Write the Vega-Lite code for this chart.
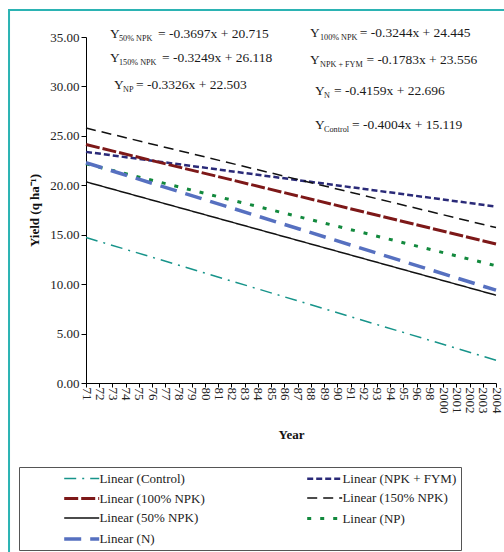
{
  "$schema": "https://vega.github.io/schema/vega-lite/v6.json",
  "width": 410,
  "height": 346,
  "autosize": {"type": "none"},
  "padding": {"left": 86, "top": 37, "right": 8, "bottom": 169},
  "background": "#ffffff",
  "datasets": {
    "lines": [
      {"series": "Linear (Control)", "year": "71", "idx": 1, "yield": 14.72},
      {"series": "Linear (Control)", "year": "2004", "idx": 32, "yield": 2.31},
      {"series": "Linear (NPK + FYM)", "year": "71", "idx": 1, "yield": 23.38},
      {"series": "Linear (NPK + FYM)", "year": "2004", "idx": 32, "yield": 17.85},
      {"series": "Linear (100% NPK)", "year": "71", "idx": 1, "yield": 24.12},
      {"series": "Linear (100% NPK)", "year": "2004", "idx": 32, "yield": 14.06},
      {"series": "Linear (150% NPK)", "year": "71", "idx": 1, "yield": 25.79},
      {"series": "Linear (150% NPK)", "year": "2004", "idx": 32, "yield": 15.72},
      {"series": "Linear (50% NPK)", "year": "71", "idx": 1, "yield": 20.35},
      {"series": "Linear (50% NPK)", "year": "2004", "idx": 32, "yield": 8.88},
      {"series": "Linear (NP)", "year": "71", "idx": 1, "yield": 22.17},
      {"series": "Linear (NP)", "year": "2004", "idx": 32, "yield": 11.86},
      {"series": "Linear (N)", "year": "71", "idx": 1, "yield": 22.28},
      {"series": "Linear (N)", "year": "2004", "idx": 32, "yield": 9.39}
    ],
    "eqs": [
      {"part": "main", "text": "Y", "idx": 2.815, "yield": 34.9},
      {"part": "sub", "text": "50% NPK", "idx": 3.495, "yield": 34.59},
      {"part": "main", "text": "= -0.3697x + 20.715", "idx": 6.444, "yield": 34.9},
      {"part": "main", "text": "Y", "idx": 2.815, "yield": 32.47},
      {"part": "sub", "text": "150% NPK", "idx": 3.495, "yield": 32.17},
      {"part": "main", "text": "= -0.3249x + 26.118", "idx": 6.746, "yield": 32.47},
      {"part": "main", "text": "Y", "idx": 3.117, "yield": 29.74},
      {"part": "sub", "text": "NP", "idx": 3.8, "yield": 29.43},
      {"part": "main", "text": "= -0.3326x + 22.503", "idx": 4.78, "yield": 29.74},
      {"part": "main", "text": "Y", "idx": 17.94, "yield": 35.0},
      {"part": "sub", "text": "100% NPK", "idx": 18.69, "yield": 34.69},
      {"part": "main", "text": "= -0.3244x + 24.445", "idx": 21.7, "yield": 35.0},
      {"part": "main", "text": "Y", "idx": 17.94, "yield": 32.27},
      {"part": "sub", "text": "NPK + FYM", "idx": 18.69, "yield": 31.96},
      {"part": "main", "text": "= -0.1783x + 23.556", "idx": 22.2, "yield": 32.27},
      {"part": "main", "text": "Y", "idx": 18.31, "yield": 29.13},
      {"part": "sub", "text": "N", "idx": 19.0, "yield": 28.83},
      {"part": "main", "text": "= -0.4159x + 22.696", "idx": 19.75, "yield": 29.13},
      {"part": "main", "text": "Y", "idx": 18.31, "yield": 25.69},
      {"part": "sub", "text": "Control", "idx": 19.0, "yield": 25.39},
      {"part": "main", "text": "= -0.4004x + 15.119", "idx": 21.11, "yield": 25.69}
    ]
  },
  "layer": [
    {
      "data": {"name": "lines"},
      "mark": {"type": "line", "clip": false},
      "encoding": {
        "x": {
          "field": "idx", "type": "quantitative",
          "scale": {"domain": [1, 32], "nice": false, "zero": false},
          "axis": {
            "title": "Year",
            "values": [1,2,3,4,5,6,7,8,9,10,11,12,13,14,15,16,17,18,19,20,21,22,23,24,25,26,27,28,29,30,31,32],
            "tickCount": 64,
            "labelExpr": "['71','72','73','74','75','76','77','78','79','80','81','82','83','84','85','86','87','88','89','90','91','92','93','94','95','96','98','2000','2001','2002','2003','2004'][datum.value - 1]",
            "labelAngle": 90,
            "labelAlign": "left",
            "labelBaseline": "middle",
            "labelOverlap": false,
            "labelFontSize": 13,
            "labelPadding": 0,
            "tickSize": 4,
            "titleFontSize": 13,
            "titleFontWeight": "bold",
            "titlePadding": 15
          }
        },
        "y": {
          "field": "yield", "type": "quantitative",
          "scale": {"domain": [0, 35], "nice": false},
          "axis": {
            "title": "Yield (q ha⁻¹)",
            "values": [0, 5, 10, 15, 20, 25, 30, 35],
            "tickCount": 20,
            "format": ".2f",
            "labelFontSize": 13,
            "labelPadding": 2,
            "tickSize": 5,
            "titleFontSize": 13,
            "titleFontWeight": "bold",
            "titlePadding": 8
          }
        },
        "color": {
          "field": "series", "type": "nominal",
          "scale": {
            "domain": ["Linear (Control)", "Linear (NPK + FYM)", "Linear (100% NPK)", "Linear (150% NPK)", "Linear (50% NPK)", "Linear (NP)", "Linear (N)"],
            "range": ["#17948a", "#2a2a78", "#7d1818", "#111111", "#111111", "#12893d", "#5670c0"]
          },
          "legend": {"title": null, "encode": {"legend": {"update": {"width": {"value": 520}}}}}
        },
        "strokeDash": {
          "field": "series", "type": "nominal",
          "scale": {
            "domain": ["Linear (Control)", "Linear (NPK + FYM)", "Linear (100% NPK)", "Linear (150% NPK)", "Linear (50% NPK)", "Linear (NP)", "Linear (N)"],
            "range": [[12, 6, 2, 6], [6, 3], [14, 3], [10, 6], [1, 0], [4, 9], [17, 9]]
          },
          "legend": {"title": null}
        },
        "strokeWidth": {
          "field": "series", "type": "nominal",
          "scale": {
            "type": "ordinal",
            "domain": ["Linear (Control)", "Linear (NPK + FYM)", "Linear (100% NPK)", "Linear (150% NPK)", "Linear (50% NPK)", "Linear (NP)", "Linear (N)"],
            "range": [1.5, 2.5, 3, 1.5, 1.5, 3, 3.5]
          },
          "legend": {"title": null}
        },
        "detail": {"field": "series"}
      }
    },
    {
      "data": {"values": [{"frame": "border"}]},
      "mark": {"type": "rect", "fill": null, "stroke": "#2bb3b3", "strokeWidth": 2, "clip": false},
      "encoding": {
        "x": {"datum": -4.82, "type": "quantitative"},
        "x2": {"datum": 36},
        "y": {"datum": 37.73, "type": "quantitative"},
        "y2": {"datum": -25}
      }
    },
    {
      "data": {"name": "eqs"},
      "transform": [{"filter": "datum.part === 'main'"}],
      "mark": {"type": "text", "align": "left", "baseline": "alphabetic", "fontSize": 13.5, "font": "Liberation Serif", "color": "#1a1a1a", "clip": false},
      "encoding": {
        "x": {"field": "idx", "type": "quantitative"},
        "y": {"field": "yield", "type": "quantitative"},
        "text": {"field": "text"}
      }
    },
    {
      "data": {"name": "eqs"},
      "transform": [{"filter": "datum.part === 'sub'"}],
      "mark": {"type": "text", "align": "left", "baseline": "alphabetic", "fontSize": 8.2, "font": "Liberation Serif", "color": "#1a1a1a", "clip": false},
      "encoding": {
        "x": {"field": "idx", "type": "quantitative"},
        "y": {"field": "yield", "type": "quantitative"},
        "text": {"field": "text"}
      }
    }
  ],
  "config": {
    "view": {"stroke": null},
    "font": "Liberation Serif",
    "axis": {
      "grid": false,
      "domainColor": "#000000",
      "tickColor": "#000000",
      "labelColor": "#222222",
      "titleColor": "#111111",
      "labelFont": "Liberation Serif",
      "titleFont": "Liberation Serif"
    },
    "legend": {
      "orient": "none",
      "legendX": -67,
      "legendY": 430,
      "direction": "horizontal",
      "columns": 2,
      "symbolType": "M-3,0H3",
      "symbolSize": 136,
      "symbolOffset": 50.7,
      "labelOffset": 9.7,
      "labelFont": "Liberation Serif",
      "labelFontSize": 13,
      "labelColor": "#222222",
      "labelLimit": 300,
      "padding": 4,
      "rowPadding": 5,
      "columnPadding": 61,
      "strokeColor": "#555555"
    }
  }
}
